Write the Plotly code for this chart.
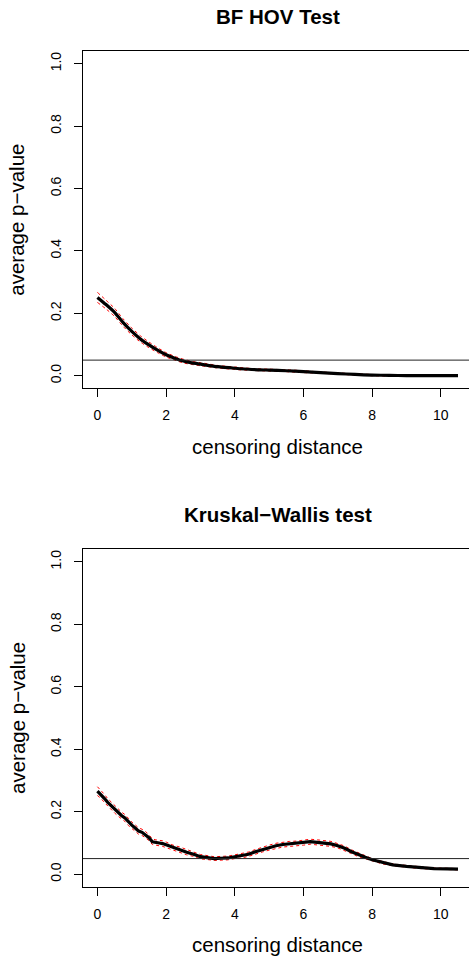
import plotly.graph_objects as go

# ---------------- data ----------------
titles = ["BF HOV Test", "Kruskal\u2212Wallis test"]
x_label = "censoring distance"
y_label = "average p\u2212value"
x_ticks = [0, 2, 4, 6, 8, 10]
y_ticks = [0.0, 0.2, 0.4, 0.6, 0.8, 1.0]
alpha_level = 0.05

x1 = [0.0, 0.25, 0.5, 0.75, 1.0, 1.25, 1.5, 1.75, 2.0, 2.25, 2.5, 2.75, 3.0,
      3.5, 4.0, 4.5, 5.0, 5.5, 6.0, 6.5, 7.0, 7.5, 8.0, 8.5, 9.0, 9.5, 10.0, 10.5]
y1 = [0.251, 0.228, 0.203, 0.170, 0.142, 0.118, 0.099, 0.082, 0.067, 0.056, 0.047,
      0.041, 0.037, 0.029, 0.024, 0.020, 0.018, 0.016, 0.013, 0.010, 0.007, 0.004,
      0.002, 0.001, 0.0005, 0.0003, 0.0002, 0.0001]
b1 = [0.016, 0.014, 0.013, 0.012, 0.011, 0.010, 0.009, 0.008, 0.007, 0.006, 0.006,
      0.005, 0.005, 0.004, 0.004, 0.003, 0.003, 0.003, 0.003, 0.002, 0.002, 0.002,
      0.002, 0.002, 0.001, 0.001, 0.001, 0.001]

x2 = [0.0, 0.1, 0.2, 0.3, 0.4, 0.5, 0.6, 0.7, 0.8, 0.9, 1.0, 1.1, 1.2, 1.3, 1.4,
      1.5, 1.6, 1.7, 1.8, 1.9, 2.0, 2.2, 2.4, 2.6, 2.8, 3.0, 3.2, 3.4, 3.6, 3.8,
      4.0, 4.2, 4.4, 4.6, 4.8, 5.0, 5.2, 5.4, 5.6, 5.8, 6.0, 6.2, 6.4, 6.6, 6.8,
      7.0, 7.2, 7.4, 7.6, 7.8, 8.0, 8.3, 8.6, 9.0, 9.4, 9.8, 10.2, 10.5]
y2 = [0.266, 0.256, 0.243, 0.230, 0.219, 0.208, 0.197, 0.188, 0.180, 0.167, 0.157,
      0.148, 0.138, 0.134, 0.127, 0.117, 0.104, 0.101, 0.100, 0.098, 0.094, 0.085,
      0.079, 0.070, 0.064, 0.056, 0.053, 0.050, 0.051, 0.052, 0.056, 0.059, 0.064,
      0.072, 0.079, 0.085, 0.091, 0.095, 0.097, 0.098, 0.101, 0.104, 0.102, 0.100,
      0.097, 0.091, 0.083, 0.072, 0.062, 0.054, 0.046, 0.037, 0.030, 0.025, 0.021,
      0.018, 0.017, 0.016]
b2 = [0.014, 0.013, 0.013, 0.012, 0.012, 0.012, 0.011, 0.011, 0.011, 0.011, 0.010,
      0.010, 0.010, 0.010, 0.010, 0.009, 0.009, 0.009, 0.009, 0.009, 0.009, 0.008,
      0.008, 0.008, 0.007, 0.007, 0.006, 0.006, 0.006, 0.006, 0.006, 0.007, 0.007,
      0.007, 0.008, 0.008, 0.008, 0.008, 0.008, 0.008, 0.008, 0.008, 0.008, 0.008,
      0.008, 0.007, 0.007, 0.006, 0.006, 0.005, 0.004, 0.004, 0.003, 0.003, 0.003,
      0.002, 0.002, 0.002]

# ---------------- figure ----------------
W, H = 469, 962
FONT = "Liberation Sans, Arial, Helvetica, sans-serif"
fig = go.Figure()

panels = [(x1, y1, b1), (x2, y2, b2)]
# plot boxes in pixels (top, bottom)
boxes = [(51.2, 388.2), (549.3, 886.7)]
x_left_px = 83.0
for i, ((xs, ys, bs), (top, bot)) in enumerate(zip(panels, boxes)):
    xa = "x" if i == 0 else "x2"
    ya = "y" if i == 0 else "y2"
    up = [y + b for y, b in zip(ys, bs)]
    lo = [y - b for y, b in zip(ys, bs)]
    for band in (up, lo):
        fig.add_trace(go.Scatter(x=xs, y=band, mode="lines", xaxis=xa, yaxis=ya,
                                 line=dict(color="red", width=1, dash="dot",
                                           shape="spline" if i == 0 else "linear",
                                           smoothing=0.6),
                                 showlegend=False, hoverinfo="skip"))
    fig.add_trace(go.Scatter(x=xs, y=ys, mode="lines", xaxis=xa, yaxis=ya,
                             line=dict(color="black", width=3.2,
                                       shape="spline" if i == 0 else "linear",
                                       smoothing=0.6),
                             showlegend=False))
    fig.add_shape(type="line", xref=f"{xa} domain", yref=ya, x0=0, x1=1,
                  y0=alpha_level, y1=alpha_level,
                  line=dict(color="#222222", width=1))

    ydom = [(H - bot) / H, (H - top) / H]
    xdom = [x_left_px / W, 1.0]
    axis_common = dict(showgrid=False, zeroline=False, showline=True,
                       linecolor="black", linewidth=1, ticks="outside",
                       ticklen=8, tickwidth=1, tickcolor="black",
                       tickfont=dict(family=FONT, size=14, color="black"))
    xkey = "xaxis" if i == 0 else "xaxis2"
    ykey = "yaxis" if i == 0 else "yaxis2"
    fig.update_layout(**{
        xkey: dict(domain=xdom, range=[-0.42, 10.82], tickvals=x_ticks,
                   ticktext=[str(t) for t in x_ticks], mirror=True,
                   anchor=ya, ticklabelstandoff=6, **axis_common),
        ykey: dict(domain=ydom, range=[-0.04, 1.04], tickvals=y_ticks,
                   ticktext=[f"{t:.1f}" for t in y_ticks], tickangle=-90,
                   anchor=xa, ticklabelstandoff=7, **axis_common),
    })
    # title
    fig.add_annotation(x=277.7 / W, y=(H - (top - 34.5)) / H, xref="paper", yref="paper",
                       text=f"<b>{titles[i]}</b>", showarrow=False,
                       xanchor="center", yanchor="middle",
                       font=dict(family=FONT, size=20.5, color="black"))
    # x-axis title
    fig.add_annotation(x=277.7 / W, y=(H - (bot + 58)) / H, xref="paper", yref="paper",
                       text=x_label, showarrow=False, xanchor="center", yanchor="middle",
                       font=dict(family=FONT, size=20.5, color="black"))
    # y-axis title
    fig.add_annotation(x=17 / W, y=(H - (top + bot) / 2) / H, xref="paper", yref="paper",
                       text=y_label, showarrow=False, xanchor="center", yanchor="middle",
                       textangle=-90,
                       font=dict(family=FONT, size=20.5, color="black"))

fig.update_layout(width=W, height=H, margin=dict(l=0, r=0, t=0, b=0),
                  paper_bgcolor="white", plot_bgcolor="white")
fig.write_html("out.html")
